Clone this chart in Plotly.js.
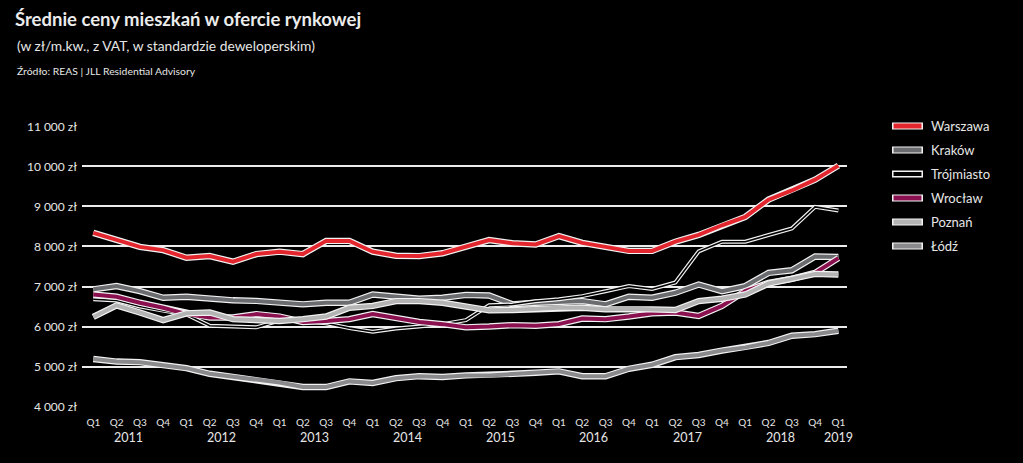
<!DOCTYPE html>
<html>
<head>
<meta charset="utf-8">
<script src="https://cdn.plot.ly/plotly-3.0.1.min.js"></script>
<style>html,body{margin:0;padding:0;background:#000;}#chart{width:1023px;height:463px;}</style>
</head>
<body>
<div id="chart"></div>
<script>
// Quarters 2011 Q1 .. 2019 Q1
const quarterLabels = ['Q1','Q2','Q3','Q4','Q1','Q2','Q3','Q4','Q1','Q2','Q3','Q4','Q1','Q2','Q3','Q4',
  'Q1','Q2','Q3','Q4','Q1','Q2','Q3','Q4','Q1','Q2','Q3','Q4','Q1','Q2','Q3','Q4','Q1'];
const years = ['2011','2012','2013','2014','2015','2016','2017','2018','2019'];
const yearPositions = [1.5, 5.5, 9.5, 13.5, 17.5, 21.5, 25.5, 29.5, 32];

const seriesNames = ['Warszawa','Kraków','Trójmiasto','Wrocław','Poznań','Łódź'];
const warszawa = [8340,8160,7990,7910,7720,7760,7620,7810,7870,7810,8140,8140,7870,7770,7760,7830,
  8000,8160,8080,8050,8260,8090,7990,7890,7890,8120,8290,8530,8740,9170,9400,9670,10020];
const krakow = [6930,7010,6885,6720,6745,6695,6655,6640,6610,6555,6595,6595,6800,6745,6695,6720,
  6790,6775,6555,6595,6610,6635,6555,6745,6720,6845,7050,6885,7010,7340,7405,7750,7740];
const trojmiasto = [6680,6650,6500,6390,6300,6020,6000,5980,6150,6130,6080,5960,5870,5950,6000,6060,
  6160,6530,6550,6630,6680,6760,6880,7010,6940,7100,7880,8120,8120,8285,8450,8990,8900];
const wroclaw = [6800,6745,6595,6470,6310,6225,6225,6310,6250,6115,6140,6185,6310,6200,6115,6060,
  5980,6000,6035,6020,6060,6200,6185,6250,6330,6350,6265,6515,6885,7090,7190,7340,7710];
const poznan = [6240,6530,6350,6160,6330,6350,6185,6165,6140,6185,6250,6470,6515,6635,6635,6595,
  6490,6405,6415,6445,6470,6470,6430,6445,6430,6415,6635,6695,6800,7075,7190,7315,7300];
const lodz = [5190,5125,5110,5045,4960,4820,4740,4655,4600,4490,4490,4630,4590,4710,4760,4740,
  4780,4780,4820,4845,4880,4760,4760,4945,5045,5235,5290,5400,5480,5590,5770,5810,5895];

const yTickVals = [4000,5000,6000,7000,8000,9000,10000,11000];
const yTickText = ['4 000 zł','5 000 zł','6 000 zł','7 000 zł','8 000 zł','9 000 zł','10 000 zł','11 000 zł'];

const allValues = [warszawa, krakow, trojmiasto, wroclaw, poznan, lodz];
const colors = ['#e3262d','#6b6c6f','#000000','#8b1050','#b4b4b4','#8a8a8c'];
const widths = [4, 4, 1.6, 4, 4, 4];
const outline = '#f2f2f2';

const xIdx = quarterLabels.map((_, i) => i);
const traces = [];
allValues.forEach((vals, k) => {
  traces.push({x: xIdx, y: vals, type: 'scatter', mode: 'lines', showlegend: false, hoverinfo: 'skip',
    line: {color: outline, width: widths[k] + 2.4, shape: 'linear'}});
  traces.push({x: xIdx, y: vals, type: 'scatter', mode: 'lines', name: seriesNames[k], showlegend: false,
    line: {color: colors[k], width: widths[k], shape: 'linear'}});
});

const FONT = 'Lato, "Open Sans", sans-serif';
const annotations = [
  {text: '(w zł/m.kw., z VAT, w standardzie deweloperskim)', xref: 'paper', yref: 'paper',
   x: -0.0876, y: 1.288, xanchor: 'left', yanchor: 'middle', showarrow: false,
   font: {family: FONT, size: 13.8, color: '#e6e6e6'}},
  {text: 'Źródło: REAS | JLL Residential Advisory', xref: 'paper', yref: 'paper',
   x: -0.0876, y: 1.196, xanchor: 'left', yanchor: 'middle', showarrow: false,
   font: {family: FONT, size: 10.4, color: '#e6e6e6'}}
];
years.forEach((yr, i) => {
  annotations.push({text: yr, x: yearPositions[i], xref: 'x', yref: 'paper', y: 0, yshift: -30,
    yanchor: 'middle', xanchor: 'center', showarrow: false,
    font: {family: FONT, size: 12.5, color: '#e6e6e6'}});
});

// manual legend (lines with outline)
const shapes = [];
const legX0 = (892 - 82) / 765, legX1 = (923 - 82) / 765, legTxt = (929 - 82) / 765;
seriesNames.forEach((nm, k) => {
  const py = 126 + 24 * k;
  const yp = (407 - py) / 281;
  shapes.push({type: 'line', xref: 'paper', yref: 'paper', x0: legX0, x1: legX1, y0: yp, y1: yp,
    line: {color: outline, width: 7}});
  shapes.push({type: 'line', xref: 'paper', yref: 'paper', x0: legX0 + 0.002, x1: legX1 - 0.002, y0: yp, y1: yp,
    line: {color: colors[k], width: k === 2 ? 4 : 5}});
  annotations.push({text: nm, xref: 'paper', yref: 'paper', x: legTxt, y: yp, xanchor: 'left',
    yanchor: 'middle', showarrow: false, font: {family: FONT, size: 13, color: '#e6e6e6'}});
});

const layout = {
  width: 1023, height: 463,
  paper_bgcolor: '#000', plot_bgcolor: '#000',
  margin: {l: 82, r: 176, t: 126, b: 56, pad: 0},
  title: {text: 'Średnie ceny mieszkań w ofercie rynkowej', xref: 'container', yref: 'container',
    x: 15 / 1023, y: 1 - 20 / 463, xanchor: 'left', yanchor: 'middle',
    font: {family: FONT, size: 18.5, color: '#ececec', weight: 700}},
  showlegend: false,
  xaxis: {range: [-0.485, 32.37], tickvals: xIdx, ticktext: quarterLabels, showgrid: false,
    zeroline: false, showline: false, ticks: '', tickangle: 0, ticklabelstandoff: 8,
    tickfont: {family: FONT, size: 10, color: '#e6e6e6'}, fixedrange: true},
  yaxis: {range: [3990, 11010], tickvals: yTickVals, ticktext: yTickText, showgrid: true,
    gridcolor: '#ececec', gridwidth: 2, zeroline: false, showline: false, ticks: '',
    ticklabelstandoff: 4,
    tickfont: {family: FONT, size: 12, color: '#e6e6e6'}, fixedrange: true},
  annotations: annotations,
  shapes: shapes
};

Plotly.newPlot('chart', traces, layout, {displayModeBar: false, staticPlot: true});
</script>
</body>
</html>
